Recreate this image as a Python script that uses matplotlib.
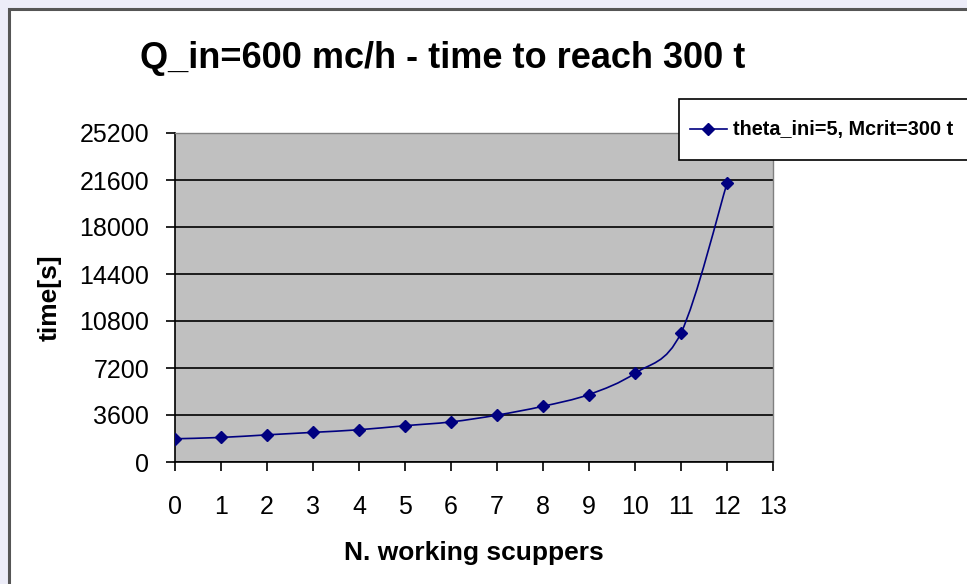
import matplotlib
matplotlib.use("Agg")
import matplotlib.pyplot as plt
import numpy as np
from matplotlib.path import Path
from matplotlib.patches import PathPatch, Rectangle
from matplotlib.lines import Line2D

plt.rcParams['font.family'] = ['Liberation Sans', 'DejaVu Sans']

scuppers = [0, 1, 2, 3, 4, 5, 6, 7, 8, 9, 10, 11, 12]
time_s = [1780, 1880, 2080, 2270, 2470, 2780, 3070, 3590, 4270, 5170, 6800, 9890, 21350]
y_ticks = [0, 3600, 7200, 10800, 14400, 18000, 21600, 25200]
x_ticks = list(range(0, 14))
title = "Q_in=600 mc/h - time to reach 300 t"
series_label = "theta_ini=5, Mcrit=300 t"
color = "#000080"

W, H = 967, 584
fig = plt.figure(figsize=(W / 100, H / 100), dpi=100, facecolor="#ECECF8")

# chart area frame
fig.patches.append(Rectangle((9 / W, -0.05), 1.1, (H - 9) / H + 0.05, transform=fig.transFigure,
                             facecolor="white", edgecolor="#555555", linewidth=2.2, zorder=-5))

ax = fig.add_axes([175 / W, (H - 462) / H, (773 - 175) / W, (462 - 133) / H], zorder=2)
ax.set_facecolor("#C0C0C0")
ax.set_xlim(0, 13)
ax.set_ylim(0, 25200)
ax.set_yticks(y_ticks)
ax.set_xticks(x_ticks)
ax.yaxis.grid(True, color="black", linewidth=1.2)
ax.set_axisbelow(True)
for s in ["top", "right"]:
    ax.spines[s].set_color("#808080")
    ax.spines[s].set_linewidth(1)
for s in ["left", "bottom"]:
    ax.spines[s].set_color("black")
    ax.spines[s].set_linewidth(1.2)
ax.tick_params(axis="both", direction="out", length=6.5, width=1.2, labelsize=18, colors="black")
ax.tick_params(axis="y", pad=12)
ax.tick_params(axis="x", pad=17)

# smoothed line (Excel-like Catmull-Rom through data points)
x = np.array(scuppers, dtype=float)
y = np.array(time_s, dtype=float)
verts = [(x[0], y[0])]
codes = [Path.MOVETO]
n = len(x)
for i in range(n - 1):
    p0 = (x[max(i - 1, 0)], y[max(i - 1, 0)])
    p1 = (x[i], y[i])
    p2 = (x[i + 1], y[i + 1])
    p3 = (x[min(i + 2, n - 1)], y[min(i + 2, n - 1)])
    c1 = (p1[0] + (p2[0] - p0[0]) / 6, p1[1] + (p2[1] - p0[1]) / 6)
    c2 = (p2[0] - (p3[0] - p1[0]) / 6, p2[1] - (p3[1] - p1[1]) / 6)
    verts += [c1, c2, p2]
    codes += [Path.CURVE4] * 3
ax.add_patch(PathPatch(Path(verts, codes), facecolor="none", edgecolor=color, linewidth=1.2, zorder=3))
ax.plot(scuppers, time_s, linestyle="none", marker="D", markersize=6.3, color=color, zorder=4)

ax.set_xlabel("N. working scuppers", fontsize=19, fontweight="bold", labelpad=16)
ax.set_ylabel("time[s]", fontsize=19, fontweight="bold", labelpad=13)

fig.text(443 / W, 1 - 58 / H, title, fontsize=26, fontweight="bold", ha="center", va="center")

# legend box
fig.patches.append(Rectangle((679 / W, 1 - 160 / H), 0.5, 61 / H, transform=fig.transFigure,
                             facecolor="white", edgecolor="black", linewidth=1.2, zorder=5))
handle = Line2D([], [], color=color, marker="D", markersize=6.3, linewidth=1.2)
leg = fig.legend([handle], [series_label], loc="center left", bbox_to_anchor=(690 / W, 1 - 130 / H),
                 frameon=False, prop={"size": 14.3, "weight": "bold"}, handlelength=1.86,
                 borderpad=0, handletextpad=0.3, borderaxespad=0)
leg.set_zorder(6)

fig.savefig("out.png", dpi=100, facecolor=fig.get_facecolor())
